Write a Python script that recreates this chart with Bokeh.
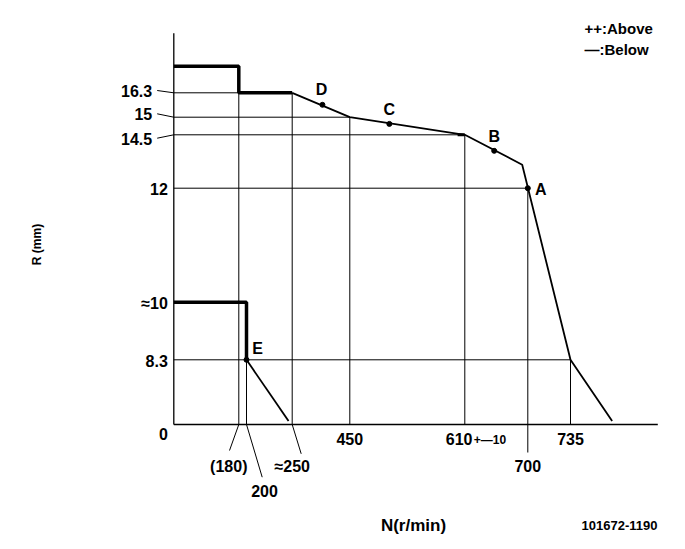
import numpy as np
from bokeh.plotting import figure
from bokeh.models import Range1d
from bokeh.core.properties import value
from bokeh.embed import file_html
from bokeh.resources import INLINE

# ---------------- data (N in r/min, R in mm) ----------------
full_N = [0, 180, 180, 250]
full_R = [17.5, 17.5, 16.3, 16.3]
gov_N = [250, 450, 610, 692, 735, 766]
gov_R = [16.3, 15.0, 14.5, 13.1, 8.3, 0.45]
idle_N = [0, 200, 200]
idle_R = [10, 10, 8.3]
idle_tail_N = [200, 246]
idle_tail_R = [8.3, 0.45]

pt_names = ["A", "B", "C", "D", "E"]
pt_N = [700, 652, 505, 355, 200]
pt_R = [12.0, 13.75, 14.81, 15.66, 8.3]

# reference lines
h_R = [16.3, 15, 14.5, 12, 8.3]
h_N_end = [250, 450, 610, 700, 735]
v_N = [180, 200, 250, 450, 610, 700, 735]
v_R_top = [17.5, 10, 16.3, 15, 14.5, 12, 8.3]

# tick labels
y_lead_vals = [16.3, 15, 14.5]
y_lead_text = ["16.3", "15", "14.5"]
y_plain_vals = [12, 10, 8.3, 0]
y_plain_text = ["12", "\u224810", "8.3", "0"]
x_lead_vals = [180, 200, 250]
x_lead_text = ["(180)", "200", "\u2248250"]
x_near_vals = [450, 735]
x_near_text = ["450", "735"]

# ---------------- schematic (non-linear) scale of the drawing ----------------
SCALE_N = [0, 180, 200, 250, 450, 610, 700, 735, 800]
SCALE_NPOS = [0, 65, 72.7, 118.4, 176, 291, 354, 396.7, 484]
SCALE_R = [0, 8.3, 10, 12, 14.5, 15, 16.3, 19]
SCALE_RPOS = [0, 64.7, 122.3, 236.3, 289.7, 307.3, 331.7, 391.3]


def sx(n):
    return list(np.interp(n, SCALE_N, SCALE_NPOS))


def sy(r):
    return list(np.interp(r, SCALE_R, SCALE_RPOS))


W, H = 668, 540
X0, Y0 = 173.3, 424.0  # position of the origin in the picture
OFF = 0
p = figure(width=W, height=H, output_backend="svg", toolbar_location=None,
           x_range=Range1d(-(X0 - OFF), -(X0 - OFF) + W),
           y_range=Range1d(-(OFF + H - Y0), Y0 - OFF),
           min_border=0, outline_line_color=None)
p.axis.visible = False
p.grid.visible = False
p.background_fill_color = "white"
p.border_fill_color = "white"

FONT = value("Liberation Sans")
BLK = "black"
TS = "16px"

# axes
p.line(sx([0, 0]), sy([0, 19]), line_color=BLK, line_width=1.3)
p.line(sx([0, 800]), sy([0, 0]), line_color=BLK, line_width=1.3)

# reference lines
for r, ne in zip(h_R, h_N_end):
    p.line(sx([0, ne]), sy([r, r]), line_color=BLK, line_width=1)
for n, rt in zip(v_N, v_R_top):
    p.line(sx([n, n]), sy([0, rt]), line_color=BLK, line_width=1)

# characteristic curves
p.line(sx(full_N), sy(full_R), line_color=BLK, line_width=3.5)
p.line(sx(gov_N), sy(gov_R), line_color=BLK, line_width=1.8)
p.line(sx(idle_N), sy(idle_R), line_color=BLK, line_width=3.5)
p.line(sx(idle_tail_N), sy(idle_tail_R), line_color=BLK, line_width=1.8)
p.line(sx([600, 610]), sy([14.5, 14.5]), line_color=BLK, line_width=3)

p.scatter(sx(pt_N), sy(pt_R), size=5, color=BLK)
lab_dx = [13, 0, 0, -1, 11]
lab_dy = [1, -14, -14, -15, -11]
p.text(sx(pt_N), sy(pt_R), text=pt_names, x_offset=lab_dx, y_offset=lab_dy,
       text_font=FONT, text_font_style="bold", text_font_size="16px",
       text_align="center", text_baseline="middle", text_color=BLK)

# y tick labels with leaders
yl = sy(y_lead_vals)
lead_dy = [-2.3, -3.4, 3.4]
for yv, d in zip(yl, lead_dy):
    p.line([0, -16.6], [yv, yv - d], line_color=BLK, line_width=1)
p.text([-21.6] * 3, yl, text=y_lead_text, x_offset=0, y_offset=[-2, -3.5, 4],
       text_font=FONT, text_font_style="bold", text_font_size=TS,
       text_align="right", text_baseline="middle", text_color=BLK)
p.text([-6] * 4, sy(y_plain_vals), text=y_plain_text, y_offset=[1, 1, 1, 9],
       text_font=FONT, text_font_style="bold", text_font_size=TS,
       text_align="right", text_baseline="middle", text_color=BLK)

# x tick labels with leaders
xl = sx(x_lead_vals)
lead_end = [(-9.3, -26), (15.7, -52.7), (9, -29.3)]
for xv, (ex, ey) in zip(xl, lead_end):
    p.line([xv, xv + ex], [0, ey], line_color=BLK, line_width=1)
p.text(xl, [0] * 3, text=x_lead_text, x_offset=[-10, 18, 0], y_offset=[42, 66, 42],
       text_font=FONT, text_font_style="bold", text_font_size=TS,
       text_align="center", text_baseline="middle", text_color=BLK)
p.text(sx(x_near_vals), [0] * 2, text=x_near_text, y_offset=14,
       text_font=FONT, text_font_style="bold", text_font_size=TS,
       text_align="center", text_baseline="middle", text_color=BLK)
# 700 with extended line
p.line(sx([700, 700]), [0, -28], line_color=BLK, line_width=1)
p.text(sx([700]), [0], text=["700"], y_offset=41,
       text_font=FONT, text_font_style="bold", text_font_size=TS,
       text_align="center", text_baseline="middle", text_color=BLK)
# 610 +-10
p.text(sx([610]), [0], text=["610"], x_offset=-19, y_offset=14,
       text_font=FONT, text_font_style="bold", text_font_size=TS,
       text_align="left", text_baseline="middle", text_color=BLK)
p.text(sx([610]), [0], text=["+\u201410"], x_offset=9, y_offset=15,
       text_font=FONT, text_font_style="bold", text_font_size="12px",
       text_align="left", text_baseline="middle", text_color=BLK)

# axis titles and notes
p.text([36 - X0], [Y0 - 244], text=["R (mm)"], angle=np.pi / 2,
       text_font=FONT, text_font_style="bold", text_font_size="12px",
       text_align="center", text_baseline="middle", text_color=BLK)
p.text([413 - X0], [Y0 - 525], text=["N(r/min)"],
       text_font=FONT, text_font_style="bold", text_font_size="17px",
       text_align="center", text_baseline="middle", text_color=BLK)
p.text([619 - X0], [Y0 - 525], text=["101672-1190"],
       text_font=FONT, text_font_style="bold", text_font_size="13px",
       text_align="center", text_baseline="middle", text_color=BLK)
p.text([584 - X0] * 2, [Y0 - 27.5, Y0 - 49], text=["++:Above", "\u2014:Below"],
       text_font=FONT, text_font_style="bold", text_font_size="15px",
       text_align="left", text_baseline="middle", text_color=BLK)

open("out.html", "w").write(file_html(p, INLINE))
